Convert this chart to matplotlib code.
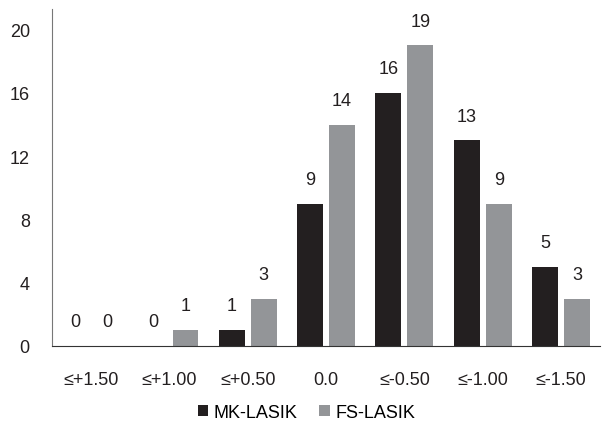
import numpy as np
import matplotlib
matplotlib.use("Agg")
import matplotlib.pyplot as plt

categories = ["≤+1.50", "≤+1.00", "≤+0.50", "0.0", "≤-0.50", "≤-1.00", "≤-1.50"]
mk_lasik = [0, 0, 1, 9, 16, 13, 5]
fs_lasik = [0, 1, 3, 14, 19, 9, 3]

plt.rcParams['font.family'] = ['Liberation Sans', 'DejaVu Sans']

fig = plt.figure(figsize=(6.13, 4.35), dpi=100)
ax = fig.add_axes([0.0848, 0.2023, 0.8942, 0.7747])

x = np.arange(len(categories))
w = 0.33
b1 = ax.bar(x - 0.205, mk_lasik, w, color="#231f20", label="MK-LASIK")
b2 = ax.bar(x + 0.205, fs_lasik, w, color="#939598", label="FS-LASIK")

for bars, vals in ((b1, mk_lasik), (b2, fs_lasik)):
    for r, v in zip(bars, vals):
        ax.text(r.get_x() + r.get_width() / 2, v + 1.0, str(v), ha="center",
                va="bottom", fontsize=13, color="#231f20")

ax.set_xlim(-0.5, len(categories) - 0.5)
ax.set_ylim(0, 21.3)
ax.set_yticks([0, 4, 8, 12, 16, 20])
ax.set_xticks(x)
ax.set_xticklabels(categories)
ax.tick_params(axis="both", length=0, labelsize=13, colors="#231f20")
ax.tick_params(axis="x", pad=18)
ax.tick_params(axis="y", pad=16)
for s in ("top", "right"):
    ax.spines[s].set_visible(False)
ax.spines["left"].set_color("#777777")
ax.spines["bottom"].set_color("#333333")

fig.legend(loc="center", bbox_to_anchor=(0.5, 0.05), ncol=2, frameon=False,
           fontsize=13, handlelength=0.6, handleheight=0.6, handletextpad=0.3,
           columnspacing=1.2)

fig.savefig("out.png", dpi=100)
